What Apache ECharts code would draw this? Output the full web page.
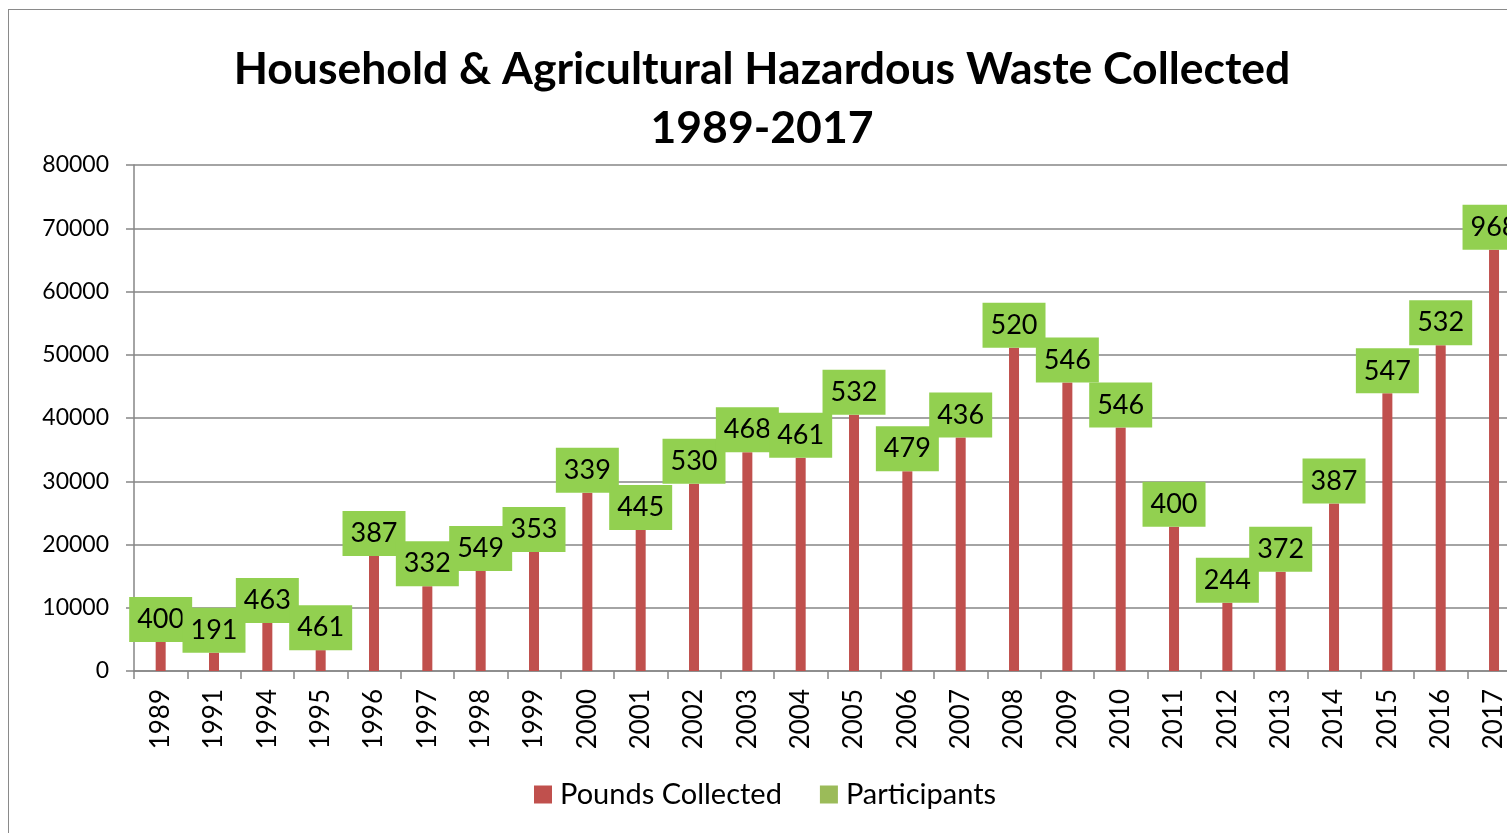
<!DOCTYPE html>
<html>
<head>
<meta charset="utf-8">
<script src="https://cdn.jsdelivr.net/npm/echarts@6/dist/echarts.min.js"></script>
<style>
  html, body { margin: 0; padding: 0; background: #fff; overflow: hidden; }
  #frame { position: absolute; left: 8px; top: 9px; width: 1540px; height: 900px;
           border: 1.5px solid #8a8a8a; box-sizing: border-box; }
  #main { width: 100%; height: 100%; }
</style>
</head>
<body>
<div id="frame"><div id="main"></div></div>
<script>
// years on the x axis
var years = ['1989','1991','1994','1995','1996','1997','1998','1999','2000','2001','2002','2003','2004',
             '2005','2006','2007','2008','2009','2010','2011','2012','2013','2014','2015','2016','2017'];
// pounds collected (bar heights)
var pounds = [4600, 2900, 7600, 3300, 18200, 13400, 15800, 18800, 28200, 22300, 29600, 34600, 33700,
              40500, 31600, 36900, 51100, 45600, 38500, 22800, 10800, 15700, 26500, 43900, 51500, 66600];
// participants (green labels)
var participants = [400, 191, 463, 461, 387, 332, 549, 353, 339, 445, 530, 468, 461,
                    532, 479, 436, 520, 546, 546, 400, 244, 372, 387, 547, 532, 968];
var yTicks = [0, 80000, 10000]; // min, max, step

var font = 'Lato, "Open Sans", sans-serif';
var myChart = echarts.init(document.getElementById('main'));

var option = {
    animation: false,
    textStyle: { fontFamily: font },
    title: {
        text: 'Household & Agricultural Hazardous Waste Collected\n1989-2017',
        left: 748,
        top: 25,
        textAlign: 'center',
        textStyle: {
            fontFamily: font,
            fontSize: 44.5,
            fontWeight: 'bold',
            color: '#000',
            lineHeight: 59
        }
    },
    legend: {
        left: 525,
        top: 770,
        padding: 0,
        icon: 'rect',
        itemWidth: 18,
        itemHeight: 18,
        itemGap: 38,
        textStyle: { fontFamily: font, fontSize: 29, color: '#000', padding: [0, 0, 0, 3] },
        data: ['Pounds Collected', 'Participants']
    },
    grid: {
        left: 125,
        top: 155,
        width: 1386.7,
        height: 506
    },
    xAxis: {
        type: 'category',
        data: years,
        axisLine: { lineStyle: { color: '#868686', width: 1.5 } },
        axisTick: { show: true, length: 8, lineStyle: { color: '#868686', width: 1.5 } },
        axisLabel: {
            interval: 0,
            rotate: 90,
            margin: 18,
            fontFamily: font,
            fontSize: 26,
            color: '#000'
        }
    },
    yAxis: {
        type: 'value',
        min: yTicks[0],
        max: yTicks[1],
        interval: yTicks[2],
        axisLine: { show: true, lineStyle: { color: '#868686', width: 1.5 } },
        axisTick: { show: true, length: 8, lineStyle: { color: '#868686', width: 1.5 } },
        axisLabel: {
            margin: 25, fontFamily: font, fontSize: 23, color: '#000',
            formatter: function (v) { return String(v); }
        },
        splitLine: { lineStyle: { color: '#868686', width: 1.5 } }
    },
    series: [
        {
            name: 'Pounds Collected',
            type: 'bar',
            data: pounds,
            barWidth: 10,
            itemStyle: { color: '#C0504D' },
            label: {
                show: true,
                position: 'top',
                distance: 0,
                formatter: function (p) { return participants[p.dataIndex]; },
                backgroundColor: '#92D050',
                padding: [10, 8, 10, 8],
                lineHeight: 25,
                fontFamily: font,
                fontSize: 27,
                color: '#000'
            }
        },
        {
            name: 'Participants',
            type: 'line',
            data: [],
            itemStyle: { color: '#9BBB59' }
        }
    ]
};
myChart.setOption(option);
</script>
</body>
</html>
